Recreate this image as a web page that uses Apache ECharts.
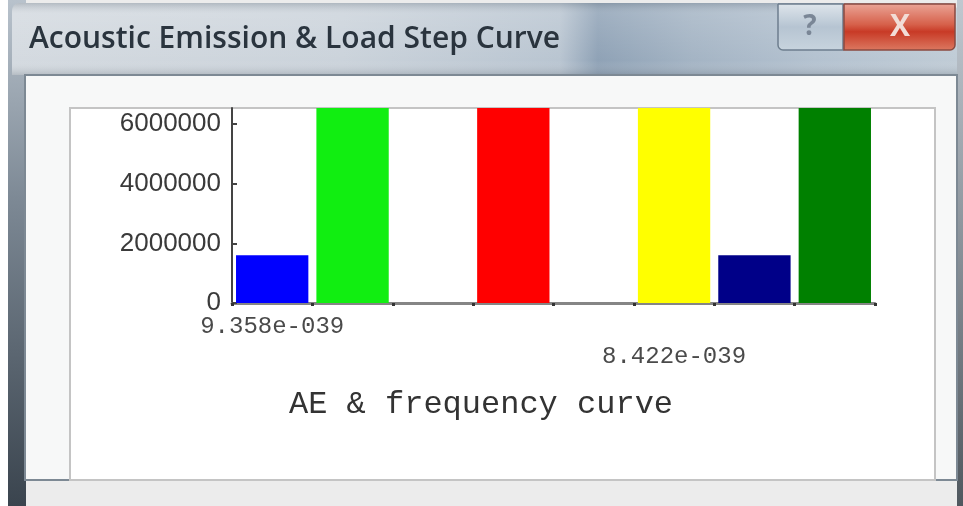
<!DOCTYPE html>
<html>
<head>
<meta charset="utf-8">
<script src="https://cdn.jsdelivr.net/npm/echarts@6/dist/echarts.min.js"></script>
<style>
html,body{margin:0;padding:0;background:#fff;}
#chart{width:963px;height:506px;}
</style>
</head>
<body>
<div id="chart"></div>
<script>
// ---- data ----
var windowTitle = 'Acoustic Emission & Load Step Curve';
var chartTitle = 'AE & frequency curve';
var categories = ['b1', 'b2', 'b3', 'b4', 'b5', 'b6', 'b7', 'b8'];
var tickLabels = ['9.358e-039', '', '', '', '', '8.422e-039', '', ''];
var values = [1600000, 6540000, null, 6540000, null, 6540000, 1600000, 6540000];
var barColors = ['#0000ff', '#11ee11', '#ffffff', '#ff0000', '#ffffff', '#ffff00', '#000088', '#008000'];
var yTicks = [0, 2000000, 4000000, 6000000];
var yMax = 6540000;

var chart = echarts.init(document.getElementById('chart'));

var seriesData = values.map(function (v, i) {
  return { value: v, itemStyle: { color: barColors[i] } };
});

var option = {
  animation: false,
  backgroundColor: '#ffffff',
  graphic: [
    { type: 'rect', z: -20, shape: { x: 0, y: 0, width: 963, height: 506 }, style: { fill: '#ececec' } },
    { type: 'rect', z: -19, shape: { x: 0, y: 0, width: 8, height: 506 }, style: { fill: '#ffffff' } },
    { type: 'rect', z: -19, shape: { x: 8, y: 0, width: 18, height: 506 },
      style: { fill: new echarts.graphic.LinearGradient(0, 0, 0, 1, [
        { offset: 0, color: '#b8c2cc' }, { offset: 0.4, color: '#7c8894' }, { offset: 1, color: '#3a444e' }]) } },
    { type: 'rect', z: -19, shape: { x: 957, y: 0, width: 6, height: 506 },
      style: { fill: new echarts.graphic.LinearGradient(0, 0, 0, 1, [
        { offset: 0, color: '#c0c8d0' }, { offset: 1, color: '#50585f' }]) } },
    { type: 'rect', z: -18, shape: { x: 12, y: 3, width: 945, height: 72, r: [8, 8, 0, 0] },
      style: { fill: new echarts.graphic.LinearGradient(0, 0, 1, 0, [
        { offset: 0, color: '#d4dae0' }, { offset: 0.35, color: '#cbd3db' },
        { offset: 0.58, color: '#b9c5d1' }, { offset: 0.62, color: '#8fa2b6' },
        { offset: 0.72, color: '#a4b4c4' }, { offset: 0.85, color: '#b4c2d0' }, { offset: 1, color: '#c0ccd6' }]) } },
    { type: 'rect', z: -17, shape: { x: 12, y: 3, width: 945, height: 72, r: [8, 8, 0, 0] },
      style: { fill: new echarts.graphic.LinearGradient(0, 0, 0, 1, [
        { offset: 0, color: 'rgba(120,130,140,0.35)' }, { offset: 0.15, color: 'rgba(255,255,255,0.15)' },
        { offset: 0.8, color: 'rgba(255,255,255,0)' }, { offset: 1, color: 'rgba(90,100,110,0.25)' }]) } },
    { type: 'rect', z: -16, shape: { x: 25, y: 75, width: 932, height: 405 },
      style: { fill: '#f7f8f8', stroke: '#7d8994', lineWidth: 2 } },
    { type: 'rect', z: -15, shape: { x: 70, y: 108, width: 865, height: 372 },
      style: { fill: '#ffffff', stroke: '#c4c4c4', lineWidth: 2 } },
    { type: 'rect', z: -14, shape: { x: 26, y: 481, width: 931, height: 25 }, style: { fill: '#ececec' } },
    { type: 'rect', z: -13, shape: { x: 778, y: 4, width: 65, height: 46, r: [0, 0, 0, 5] },
      style: { fill: new echarts.graphic.LinearGradient(0, 0, 0, 1, [
        { offset: 0, color: '#dfe6ec' }, { offset: 0.5, color: '#b6c4d2' }, { offset: 1, color: '#c8d4de' }]),
        stroke: '#6e7e8e', lineWidth: 1.5 } },
    { type: 'text', z: 50, style: { x: 810, y: 27, text: '?', fill: '#7a8696', font: 'bold 28px "Open Sans"', align: 'center', verticalAlign: 'middle' } },
    { type: 'rect', z: -13, shape: { x: 844, y: 4, width: 111, height: 46, r: [0, 0, 5, 0] },
      style: { fill: new echarts.graphic.LinearGradient(0, 0, 0, 1, [
        { offset: 0, color: '#eba698' }, { offset: 0.45, color: '#d6604a' }, { offset: 0.6, color: '#c83a26' }, { offset: 1, color: '#dc7a62' }]),
        stroke: '#8a4a40', lineWidth: 1.5 } },
    { type: 'text', z: 50, style: { x: 900, y: 27, text: 'X', fill: '#f2dcd6', font: 'bold 30px "Open Sans"', align: 'center', verticalAlign: 'middle' } },
    { type: 'text', z: 50, style: { x: 29, y: 39, text: windowTitle, fill: '#2a343e', font: '600 30px "Open Sans"', verticalAlign: 'middle' } },
    { type: 'text', z: 50, style: { x: 481, y: 405, text: chartTitle, fill: '#333333', font: '32px "Liberation Mono"', align: 'center', verticalAlign: 'middle' } }
  ],
  grid: { left: 232, right: 88, top: 108, bottom: 203, containLabel: false },
  xAxis: {
    type: 'category',
    data: categories,
    boundaryGap: true,
    axisLine: { lineStyle: { color: '#858585', width: 3 } },
    axisTick: { show: true, interval: 0, length: 3, lineStyle: { color: '#333', width: 3 } },
    axisLabel: {
      interval: 0,
      margin: 9,
      lineHeight: 30,
      fontFamily: 'Liberation Mono',
      fontSize: 24,
      color: '#4a4a4a',
      formatter: function (v, i) { return i === 5 ? '\n' + tickLabels[i] : tickLabels[i]; }
    },
    splitLine: { show: false }
  },
  yAxis: {
    type: 'value',
    min: 0,
    max: yMax,
    axisLine: { show: true, lineStyle: { color: '#444', width: 2 } },
    axisTick: { show: true, inside: true, length: 5, customValues: yTicks, lineStyle: { color: '#444', width: 2 } },
    axisLabel: {
      customValues: yTicks, margin: 11, fontFamily: 'Liberation Sans', fontSize: 26, color: '#3a3a3a',
      formatter: function (v) { return String(v); }
    },
    splitLine: { show: false }
  },
  series: [{
    type: 'bar',
    data: seriesData,
    barCategoryGap: '10%',
    clip: true
  }]
};
chart.setOption(option);
</script>
</body>
</html>
